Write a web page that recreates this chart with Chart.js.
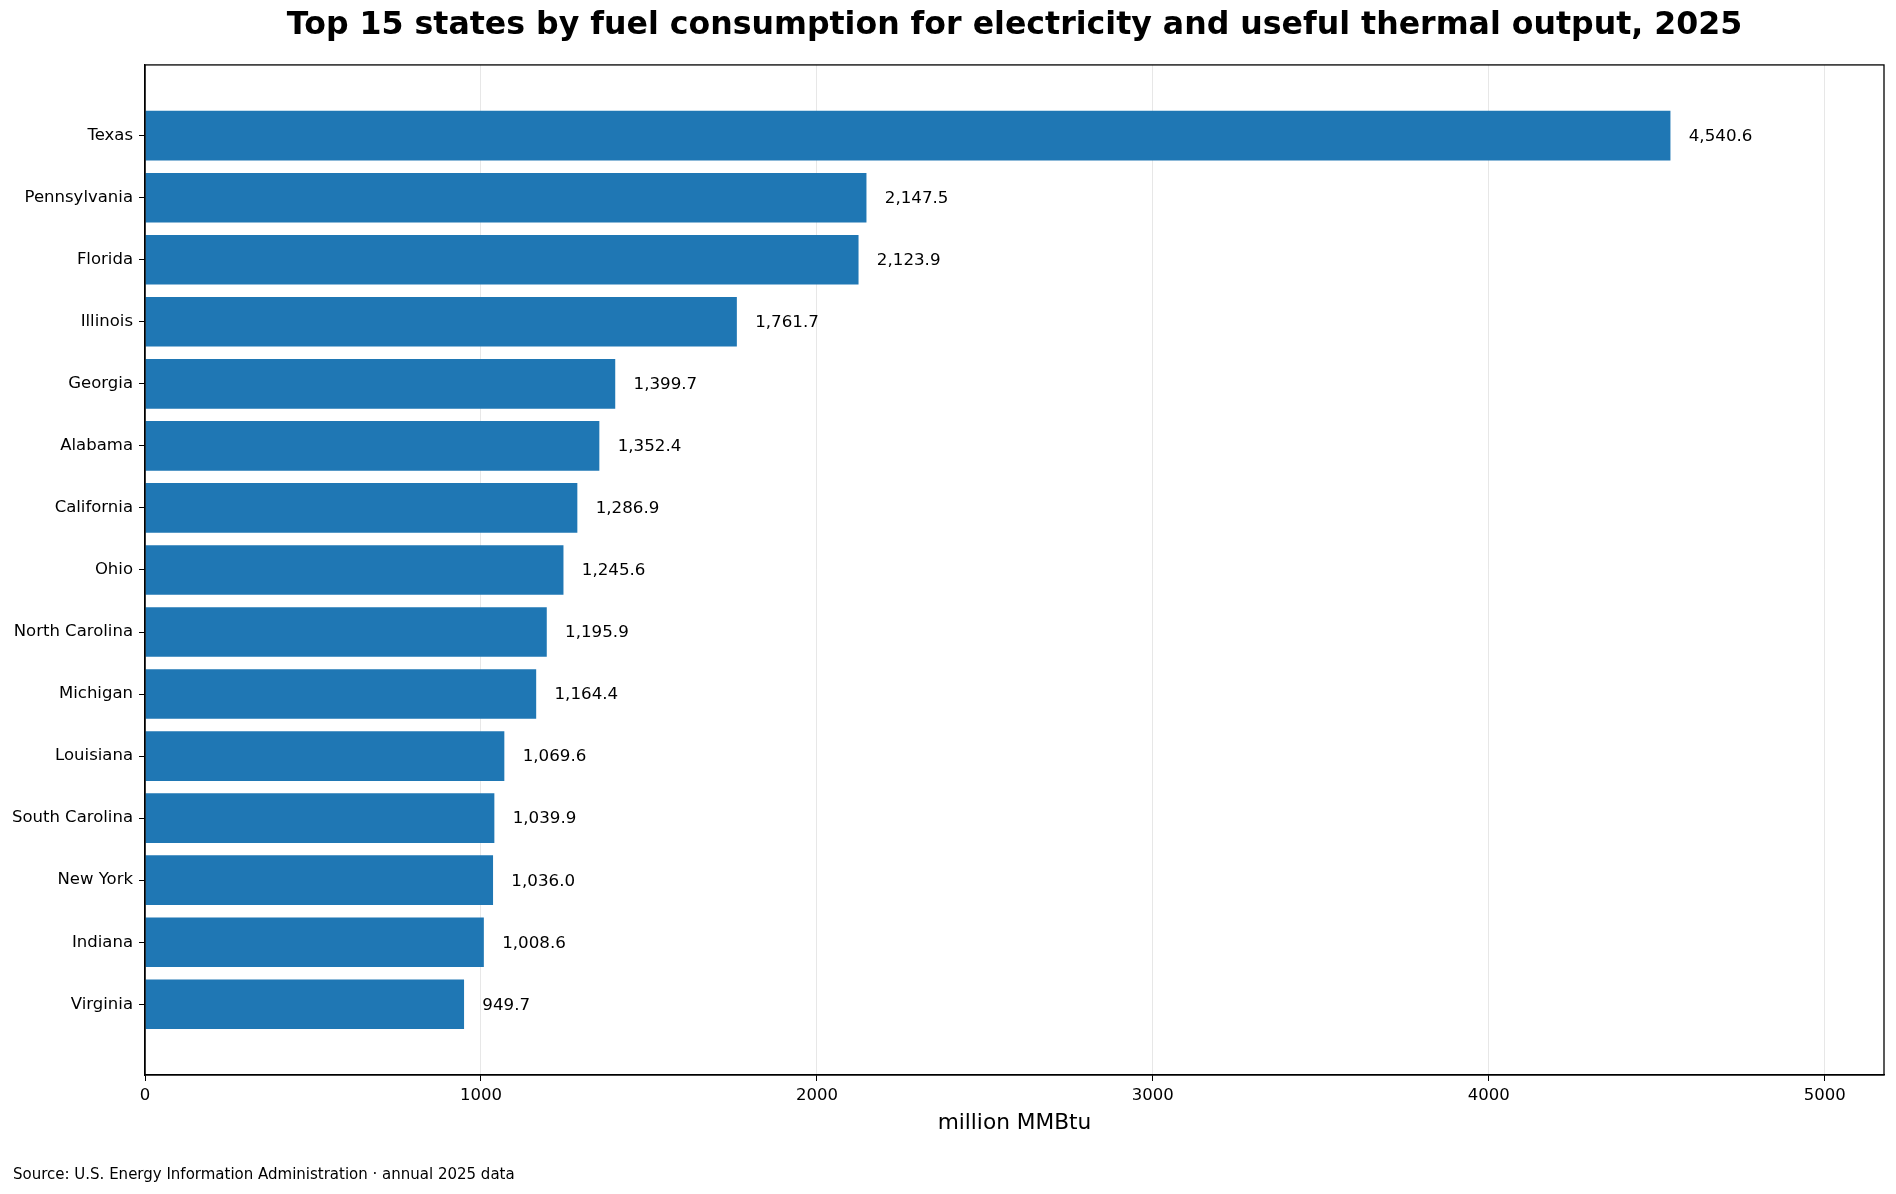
<!DOCTYPE html>
<html>
<head>
<meta charset="utf-8">
<script src="https://cdn.jsdelivr.net/npm/chart.js@4.4.1/dist/chart.umd.min.js"></script>
<style>
  html, body { margin: 0; padding: 0; background: #fff; }
</style>
</head>
<body>
<canvas id="grafico" width="1896" height="1194"></canvas>
<script>
// Datos
const estados = ['Texas', 'Pennsylvania', 'Florida', 'Illinois', 'Georgia', 'Alabama', 'California', 'Ohio',
  'North Carolina', 'Michigan', 'Louisiana', 'South Carolina', 'New York', 'Indiana', 'Virginia'];
const consumo = [4540.6, 2147.5, 2123.9, 1761.7, 1399.7, 1352.4, 1286.9, 1245.6,
  1195.9, 1164.4, 1069.6, 1039.9, 1036.0, 1008.6, 949.7];
const ticksX = [0, 1000, 2000, 3000, 4000, 5000];

const titulo = 'Top 15 states by fuel consumption for electricity and useful thermal output, 2025';
const etiquetaX = 'million MMBtu';
const fuente = 'Source: U.S. Energy Information Administration \u00b7 annual 2025 data';

const maximo = Math.max(...consumo);
const fmt = v => v.toLocaleString('en-US', { minimumFractionDigits: 1, maximumFractionDigits: 1 });

Chart.defaults.font.family = "'DejaVu Sans', sans-serif";
Chart.defaults.color = '#000';

// Marco completo, etiquetas de valor y nota de fuente
const extras = {
  id: 'extras',
  afterDatasetsDraw(chart) {
    const ctx = chart.ctx;
    const xs = chart.scales.x;
    const meta = chart.getDatasetMeta(0);
    ctx.save();
    ctx.font = "16.7px 'DejaVu Sans'";
    ctx.fillStyle = '#000';
    ctx.textAlign = 'left';
    ctx.textBaseline = 'middle';
    meta.data.forEach((bar, i) => {
      ctx.fillText(fmt(consumo[i]), xs.getPixelForValue(consumo[i] + maximo * 0.012), bar.y + 1);
    });
    ctx.restore();
  },
  afterDraw(chart) {
    const ctx = chart.ctx;
    const a = chart.chartArea;
    ctx.save();
    ctx.strokeStyle = '#000';
    ctx.lineWidth = 1.3;
    ctx.strokeRect(a.left, a.top, a.right - a.left, a.bottom - a.top);
    ctx.font = "15px 'DejaVu Sans'";
    ctx.fillStyle = '#000';
    ctx.textBaseline = 'middle';
    ctx.fillText(fuente, 13, 1175);
    ctx.restore();
  }
};

new Chart(document.getElementById('grafico'), {
  type: 'bar',
  data: {
    datasets: [{
      data: consumo.map((v, i) => ({ x: v, y: i })),
      backgroundColor: '#1f77b4',
      borderWidth: 0,
      barPercentage: 0.8,
      categoryPercentage: 1.0
    }]
  },
  options: {
    indexAxis: 'y',
    responsive: false,
    animation: false,
    layout: { padding: { top: 0, left: 0, right: 12, bottom: 58 } },
    plugins: {
      legend: { display: false },
      tooltip: { enabled: false },
      title: {
        display: true,
        text: titulo,
        fullSize: false,
        font: { size: 31.6, weight: 'bold' },
        padding: { top: 7, bottom: 20 }
      }
    },
    scales: {
      x: {
        type: 'linear',
        min: 0,
        max: maximo * 1.14,
        afterBuildTicks: s => { s.ticks = ticksX.map(v => ({ value: v })); },
        afterFit: s => { s.height = 61; },
        ticks: { font: { size: 16.5 }, padding: 5, maxRotation: 0, callback: v => String(v) },
        grid: { color: 'rgba(176,176,176,0.3)', tickColor: '#000', tickLength: 6, lineWidth: 1 },
        border: { display: true, color: '#000', width: 1.3 },
        title: { display: true, text: etiquetaX, font: { size: 21.7 }, padding: { top: 0, bottom: 0 } }
      },
      y: {
        type: 'linear',
        reverse: true,
        offset: false,
        min: -1.14,
        max: estados.length - 1 + 1.14,
        afterBuildTicks: s => { s.ticks = estados.map((e, i) => ({ value: i })); },
        afterFit: s => { s.width = 145; },
        ticks: { font: { size: 16.5 }, padding: 6, callback: v => estados[v] },
        grid: { offset: false, drawOnChartArea: false, tickColor: '#000', tickLength: 6 },
        border: { display: true, color: '#000', width: 1.3 }
      }
    }
  },
  plugins: [extras]
});
</script>
</body>
</html>
